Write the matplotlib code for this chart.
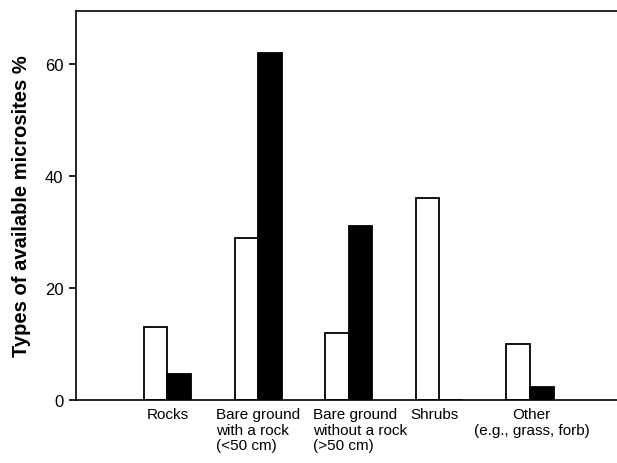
import numpy as np
import matplotlib.pyplot as plt

plt.rcParams['font.family'] = ['Liberation Sans', 'DejaVu Sans']

categories = ['Rocks', 'Bare ground\nwith a rock\n(<50 cm)', 'Bare ground\nwithout a rock\n(>50 cm)',
              'Shrubs', 'Other\n(e.g., grass, forb)']
available = [13, 29, 12, 36, 10]
used = [4.7, 62, 31, 0, 2.3]

x = np.arange(len(categories))
w = 0.26

fig = plt.figure(figsize=(6.17, 4.64), dpi=100)
ax = fig.add_axes([0.123, 0.136, 0.877, 0.838])

ax.bar(x - w / 2, available, w, color='white', edgecolor='black', linewidth=1.3)
ax.bar(x + w / 2, used, w, color='black', edgecolor='black', linewidth=1.3)

ax.set_xlim(-1.01, 4.96)
ax.set_ylim(0, 69.5)
ax.set_yticks([0, 20, 40, 60])
ax.tick_params(axis='y', labelsize=12, length=5, width=1.2, pad=4)
ax.set_xticks([])

# category labels under the groups
offsets = [0, 0, 0.12, -0.05, 0.02]
aligns = ['center', 'left', 'left', 'left', 'center']
for i, lab in enumerate(categories):
    ax.text(x[i] + offsets[i], -1.3, lab, ha='center', va='top', fontsize=11,
            multialignment=aligns[i], linespacing=1.15)

ax.set_ylabel('Types of available microsites %', fontsize=14.5, fontweight='bold', labelpad=10)

for s in ['left', 'bottom', 'top']:
    ax.spines[s].set_linewidth(1.2)
ax.spines['right'].set_visible(False)

fig.savefig('out.png', dpi=100)
